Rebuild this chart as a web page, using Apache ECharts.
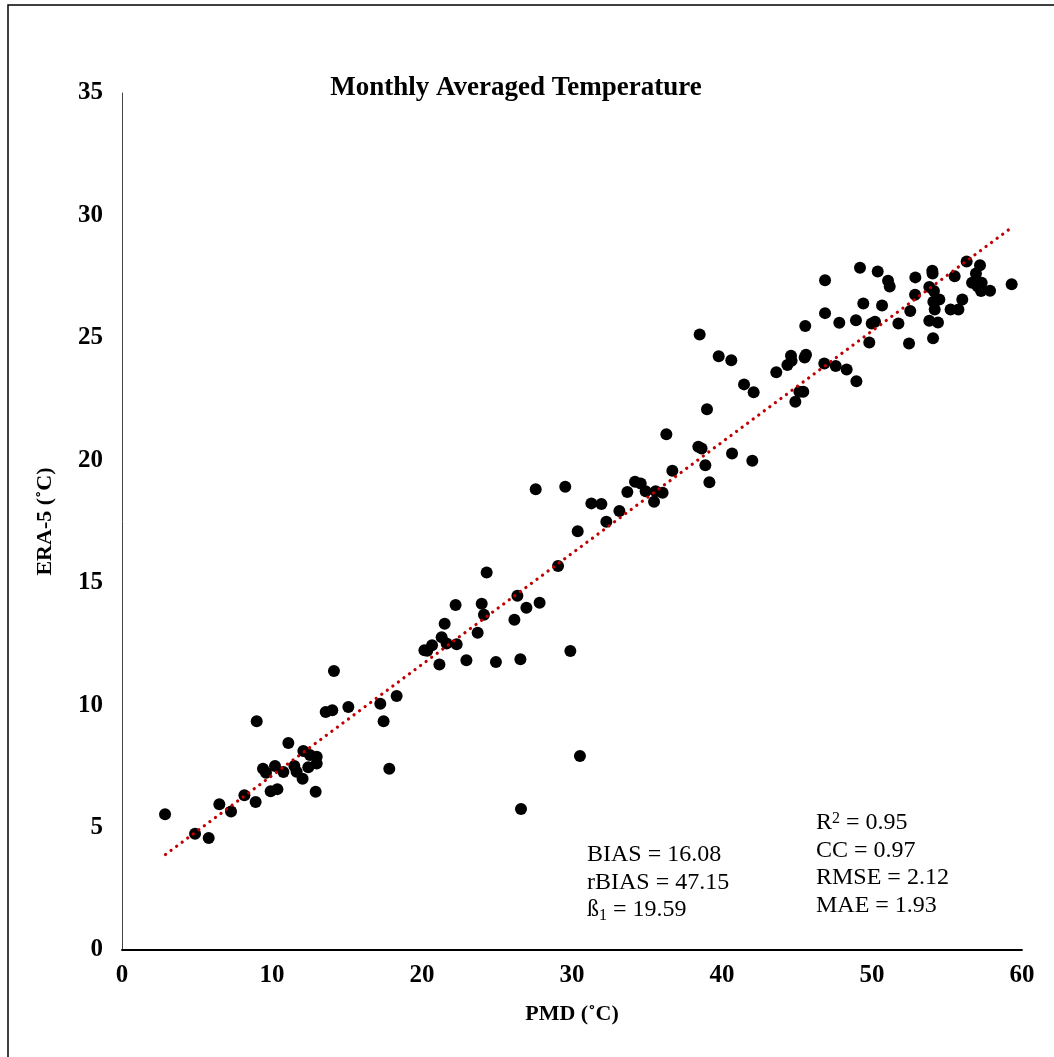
<!DOCTYPE html>
<html>
<head>
<meta charset="utf-8">
<title>Monthly Averaged Temperature</title>
<script src="https://cdn.jsdelivr.net/npm/echarts@6/dist/echarts.min.js"></script>
<style>
  html, body { margin: 0; padding: 0; background: #fff; }
  #chart { width: 1054px; height: 1057px; }
</style>
</head>
<body>
<div id="chart"></div>
<script>
// PMD (x) vs ERA-5 (y), monthly averaged temperature
const pmdValues = [
  2.87, 4.87, 5.78, 6.49, 7.27, 8.16, 8.91, 8.98, 9.40, 9.60,
  9.91, 10.20, 10.36, 10.76, 11.09, 11.49, 11.64, 12.04, 12.09, 12.42,
  12.53, 12.98, 12.98, 12.91, 13.58, 14.02, 15.09, 17.22, 17.44, 17.82,
  18.31, 14.13, 20.16, 20.35, 20.67, 21.31, 21.51, 21.16, 21.64, 22.31,
  22.24, 22.96, 23.71, 23.98, 24.13, 24.31, 24.93, 26.16, 26.36, 26.56,
  26.96, 27.84, 29.07, 29.89, 30.53, 26.60, 27.58, 29.55, 30.38, 31.29,
  31.96, 32.29, 33.16, 33.69, 34.20, 34.58, 34.91, 35.47, 35.58, 36.04,
  36.69, 36.29, 38.42, 38.64, 38.89, 39.16, 40.67, 42.02, 38.51, 39.78,
  40.62, 41.47, 42.11, 39.00, 43.62, 44.36, 44.60, 44.64, 45.51, 45.60,
  45.16, 45.42, 44.89, 45.55, 46.82, 47.58, 48.31, 48.96, 47.82, 48.93,
  49.82, 49.98, 50.20, 51.76, 46.87, 46.87, 49.20, 49.42, 50.38, 50.67,
  51.07, 51.18, 52.47, 52.55, 52.89, 52.87, 53.82, 53.82, 54.02, 54.04,
  54.13, 54.09, 54.49, 54.18, 54.40, 54.07, 55.24, 55.76, 55.51, 56.02,
  56.31, 56.67, 56.93, 57.20, 57.31, 57.27, 57.87, 59.31, 57.05
]
const era5Values = [
  5.54, 4.75, 4.57, 5.95, 5.66, 6.32, 6.04, 9.34, 7.40, 7.24,
  6.48, 7.51, 6.57, 7.27, 8.45, 7.51, 7.28, 6.99, 8.13, 7.46,
  7.96, 7.62, 7.89, 6.46, 9.72, 9.79, 9.92, 10.06, 9.34, 7.40,
  10.37, 11.39, 12.24, 12.22, 12.45, 12.77, 13.32, 11.66, 12.52, 12.49,
  14.09, 11.83, 12.96, 14.14, 13.69, 15.42, 11.76, 13.49, 14.47, 11.87,
  13.98, 14.18, 15.68, 12.21, 7.92, 5.76, 18.82, 18.92, 17.10, 18.24,
  18.21, 17.49, 17.93, 18.70, 19.12, 19.05, 18.74, 18.31, 18.74, 18.67,
  19.57, 21.06, 20.55, 20.48, 19.80, 19.10, 20.28, 19.98, 25.14, 24.25,
  24.09, 23.10, 22.78, 22.08, 23.60, 23.89, 24.27, 24.06, 24.20, 24.31,
  22.80, 22.80, 22.39, 25.48, 23.95, 23.85, 23.71, 23.23, 25.62, 25.72,
  24.81, 25.59, 25.66, 25.59, 27.35, 26.01, 27.86, 26.40, 27.71, 26.32,
  27.33, 27.10, 24.77, 26.10, 27.47, 26.76, 27.08, 25.70, 27.74, 27.63,
  26.91, 26.47, 26.57, 26.16, 25.63, 24.98, 26.16, 26.16, 27.52, 26.57,
  28.12, 27.25, 27.63, 27.97, 27.25, 26.91, 26.92, 27.19, 27.10
]

// linear trend line end points as drawn in the figure
const trendX = [2.9, 59.3]
const trendY = [3.9, 29.5]

const xTicks = [0, 10, 20, 30, 40, 50, 60]
const yTicks = [0, 5, 10, 15, 20, 25, 30, 35]

const statsLeft = ['BIAS = 16.08', 'rBIAS = 47.15', '{n|ß}{sub|1}{n| = 19.59}']
const statsRight = ['{n|R}{sup|2}{n| = 0.95}', 'CC = 0.97', 'RMSE = 2.12', 'MAE = 1.93']

const serif = "'Liberation Serif', 'Times New Roman', serif"

const chart = echarts.init(document.getElementById('chart'))

function statText(lines, left, top) {
  return lines.map((line, i) => ({
    type: 'text',
    left: left,
    top: top + i * 27.5,
    silent: true,
    style: {
      text: line,
      font: '24px ' + serif,
      fill: '#000',
      rich: {
        n: { fontFamily: serif, fontSize: 24, fill: '#000' },
        sub: { fontFamily: serif, fontSize: 16, fill: '#000', padding: [12, 0, 0, 0] },
        sup: { fontFamily: serif, fontSize: 16, fill: '#000', padding: [0, 0, 8, 0] },
      },
    },
  }))
}

chart.setOption({
  animation: false,
  backgroundColor: '#fff',
  title: {
    text: 'Monthly Averaged Temperature',
    left: 511,
    top: 70,
    textAlign: 'center',
    textStyle: { fontFamily: serif, fontWeight: 'bold', fontSize: 27, color: '#000' },
  },
  grid: { left: 122, right: 32, top: 93, bottom: 107 },
  xAxis: {
    type: 'value',
    min: xTicks[0],
    max: xTicks[xTicks.length - 1],
    interval: xTicks[1] - xTicks[0],
    name: 'PMD (˚C)',
    nameLocation: 'middle',
    nameGap: 53,
    nameTextStyle: { fontFamily: serif, fontWeight: 'bold', fontSize: 22, color: '#000' },
    axisLine: { lineStyle: { color: '#000', width: 1.8 } },
    axisTick: { show: false },
    splitLine: { show: false },
    axisLabel: { fontFamily: serif, fontWeight: 'bold', fontSize: 25, color: '#000', margin: 13 },
  },
  yAxis: {
    type: 'value',
    min: yTicks[0],
    max: yTicks[yTicks.length - 1],
    interval: yTicks[1] - yTicks[0],
    name: 'ERA-5 (˚C)',
    nameLocation: 'middle',
    nameGap: 66,
    nameTextStyle: { fontFamily: serif, fontWeight: 'bold', fontSize: 22, color: '#000' },
    axisLine: { show: true, lineStyle: { color: '#444', width: 1 } },
    axisTick: { show: false },
    splitLine: { show: false },
    axisLabel: { fontFamily: serif, fontWeight: 'bold', fontSize: 25, color: '#000', margin: 19 },
  },
  series: [
    {
      name: 'Trend',
      type: 'line',
      data: trendX.map((x, i) => [x, trendY[i]]),
      showSymbol: false,
      lineStyle: { color: '#c00000', width: 3.2, type: [0.1, 6.8], cap: 'round' },
      z: 3,
    },
    {
      name: 'Monthly',
      type: 'scatter',
      data: pmdValues.map((x, i) => [x, era5Values[i]]),
      symbol: 'circle',
      symbolSize: 12,
      itemStyle: { color: '#000', opacity: 1 },
      z: 2,
    },
  ],
  graphic: [
    {
      type: 'rect',
      silent: true,
      shape: { x: 8, y: 5, width: 1100, height: 1100 },
      style: { fill: 'none', stroke: '#000', lineWidth: 1.5 },
    },
    ...statText(statsLeft, 587, 843),
    ...statText(statsRight, 816, 811),
  ],
})
</script>
</body>
</html>
